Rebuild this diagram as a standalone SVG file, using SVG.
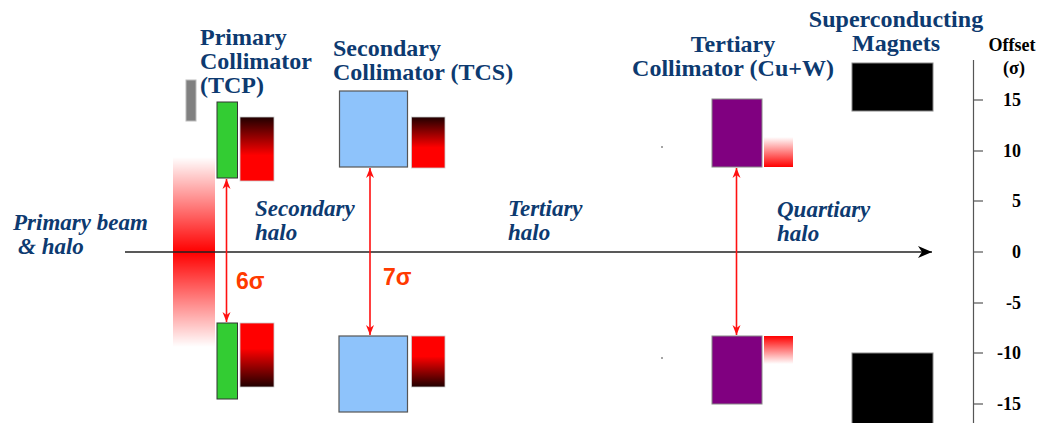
<svg xmlns="http://www.w3.org/2000/svg" width="1040" height="423" viewBox="0 0 1040 423">
<style>
.hd{font-family:'Liberation Serif','Times New Roman','DejaVu Serif',serif;font-weight:bold;font-size:24px;fill:#0d3a70}
.it{font-family:'Liberation Serif','Times New Roman','DejaVu Serif',serif;font-weight:bold;font-style:italic;font-size:23px;fill:#0d3a70}
.sg{font-family:'Liberation Sans',Arial,sans-serif;font-weight:bold;font-size:23px;fill:#ff3a00}
.tk{font-family:'Liberation Serif','Times New Roman','DejaVu Serif',serif;font-weight:bold;font-size:18px;fill:#000}
.ax{stroke:#222;stroke-width:1.6;fill:none}
.rd{stroke:#ff1010;stroke-width:1.6;fill:none}
.gr{fill:#33cc33;stroke:#333;stroke-width:1}
.bl{fill:#8ec3fb;stroke:#555;stroke-width:1.2}
.pu{fill:#800080;stroke:#888;stroke-width:1}
.bk{fill:#000;stroke:#888;stroke-width:1}
</style>
<defs>
<linearGradient id="dk2r" x1="0" y1="0" x2="0" y2="1">
<stop offset="0" stop-color="#200000"/><stop offset="0.6" stop-color="#ff0000"/><stop offset="1" stop-color="#ff0000"/>
</linearGradient>
<linearGradient id="r2dk" x1="0" y1="0" x2="0" y2="1">
<stop offset="0" stop-color="#ff0000"/><stop offset="0.4" stop-color="#ff0000"/><stop offset="1" stop-color="#200000"/>
</linearGradient>
<linearGradient id="beam" x1="0" y1="0" x2="0" y2="1">
<stop offset="0" stop-color="#ff0000" stop-opacity="0"/><stop offset="0.5" stop-color="#ff0000" stop-opacity="1"/><stop offset="1" stop-color="#ff0000" stop-opacity="0"/>
</linearGradient>
<linearGradient id="fadeUp" x1="0" y1="0" x2="0" y2="1">
<stop offset="0" stop-color="#ff0000" stop-opacity="0"/><stop offset="1" stop-color="#ff0000" stop-opacity="1"/>
</linearGradient>
<linearGradient id="fadeDn" x1="0" y1="0" x2="0" y2="1">
<stop offset="0" stop-color="#ff0000" stop-opacity="1"/><stop offset="1" stop-color="#ff0000" stop-opacity="0"/>
</linearGradient>
<marker id="rh" viewBox="0 0 10 10" refX="10" refY="5" markerWidth="10" markerHeight="10" markerUnits="userSpaceOnUse" orient="auto-start-reverse">
<path d="M0,1 L10,5 L0,9 L3,5 Z" fill="#ff1010"/>
</marker>
<marker id="ah" viewBox="0 0 14 14" refX="14" refY="7" markerWidth="14" markerHeight="14" markerUnits="userSpaceOnUse" orient="auto">
<path d="M0,1 L14,7 L0,13 L4,7 Z" fill="#000"/>
</marker>
</defs>

<g id="beam-halo">
<rect x="173" y="157" width="42" height="190" fill="url(#beam)"/>
</g>

<g id="connectors">
<line class="ax" x1="125" y1="252" x2="932" y2="252" marker-end="url(#ah)"/>
<line class="rd" x1="226.5" y1="179" x2="226.5" y2="322" marker-start="url(#rh)" marker-end="url(#rh)"/>
<line class="rd" x1="370" y1="168" x2="370" y2="335" marker-start="url(#rh)" marker-end="url(#rh)"/>
<line class="rd" x1="736.5" y1="168" x2="736.5" y2="335" marker-start="url(#rh)" marker-end="url(#rh)"/>
</g>

<g id="labels-halo">
<text class="it" x="13" y="230">Primary beam</text>
<text class="it" x="18" y="254">&amp; halo</text>
<text class="it" x="255" y="216">Secondary</text>
<text class="it" x="255" y="240">halo</text>
<text class="it" x="508" y="216">Tertiary</text>
<text class="it" x="508" y="240">halo</text>
<text class="it" x="777" y="217">Quartiary</text>
<text class="it" x="777" y="241">halo</text>
<text class="sg" x="236" y="289">6σ</text>
<text class="sg" x="383" y="285">7σ</text>
</g>

<g id="primary-collimator">
<text class="hd" x="200" y="45">Primary</text>
<text class="hd" x="200" y="69">Collimator</text>
<text class="hd" x="200" y="93">(TCP)</text>
<rect x="186" y="80" width="10" height="41" fill="#808080" stroke="#bbb" stroke-width="1"/>
<rect class="gr" x="217" y="102" width="20.5" height="76"/>
<rect x="240" y="117" width="34" height="64" fill="url(#dk2r)" stroke="#ccc" stroke-width="0.8"/>
<rect class="gr" x="217" y="323" width="20.5" height="76"/>
<rect x="240" y="323" width="34" height="64" fill="url(#r2dk)" stroke="#ccc" stroke-width="0.8"/>
</g>

<g id="secondary-collimator">
<text class="hd" x="333" y="56">Secondary</text>
<text class="hd" x="333" y="80">Collimator (TCS)</text>
<rect class="bl" x="339.5" y="91" width="68" height="76"/>
<rect x="411.5" y="117" width="33.5" height="51" fill="url(#dk2r)" stroke="#ccc" stroke-width="0.8"/>
<rect class="bl" x="339" y="336" width="68.5" height="76"/>
<rect x="411.5" y="336" width="33.5" height="51" fill="url(#r2dk)" stroke="#ccc" stroke-width="0.8"/>
</g>

<g id="dots">
<circle cx="662" cy="147" r="0.8" fill="#333"/>
<circle cx="662" cy="358" r="0.8" fill="#333"/>
</g>

<g id="tertiary-collimator">
<text class="hd" x="733" y="52" text-anchor="middle">Tertiary</text>
<text class="hd" x="733" y="76" text-anchor="middle">Collimator (Cu+W)</text>
<rect class="pu" x="712" y="99" width="50" height="68"/>
<rect x="764" y="137" width="29" height="30" fill="url(#fadeUp)"/>
<rect class="pu" x="712" y="336" width="50" height="68"/>
<rect x="764" y="336" width="29" height="28" fill="url(#fadeDn)"/>
</g>

<g id="superconducting-magnets">
<text class="hd" x="896" y="27" text-anchor="middle">Superconducting</text>
<text class="hd" x="896" y="51" text-anchor="middle">Magnets</text>
<rect class="bk" x="852" y="63" width="81" height="48"/>
<rect class="bk" x="852" y="353" width="81" height="75"/>
</g>

<g id="offset-axis">
<text class="tk" x="1012" y="51" text-anchor="middle">Offset</text>
<text class="tk" x="1014" y="74" text-anchor="middle">(σ)</text>
<line x1="973.5" y1="60" x2="973.5" y2="423" stroke="#555" stroke-width="1.2"/>
<g stroke="#555" stroke-width="1.2">
<line x1="973" y1="100" x2="983" y2="100"/>
<line x1="973" y1="151" x2="983" y2="151"/>
<line x1="973" y1="201" x2="983" y2="201"/>
<line x1="973" y1="252" x2="983" y2="252"/>
<line x1="973" y1="303" x2="983" y2="303"/>
<line x1="973" y1="353" x2="983" y2="353"/>
<line x1="973" y1="404" x2="983" y2="404"/>
</g>
<text class="tk" x="1021" y="106" text-anchor="end">15</text>
<text class="tk" x="1021" y="157" text-anchor="end">10</text>
<text class="tk" x="1021" y="207" text-anchor="end">5</text>
<text class="tk" x="1021" y="258" text-anchor="end">0</text>
<text class="tk" x="1021" y="309" text-anchor="end">-5</text>
<text class="tk" x="1021" y="359" text-anchor="end">-10</text>
<text class="tk" x="1021" y="410" text-anchor="end">-15</text>
</g>
</svg>
